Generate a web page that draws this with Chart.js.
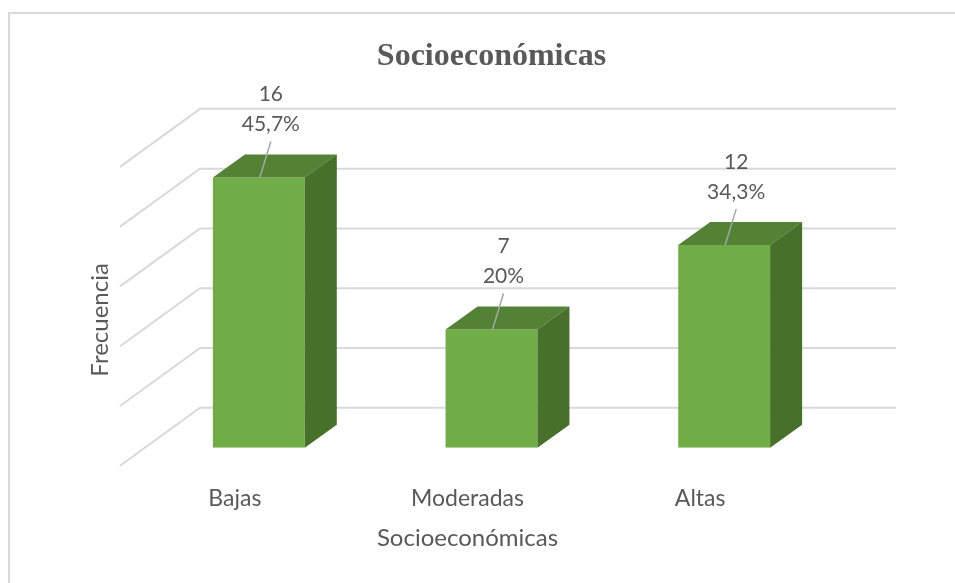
<!DOCTYPE html>
<html>
<head>
<meta charset="utf-8">
<script src="https://cdn.jsdelivr.net/npm/chart.js@4"></script>
<style>
  html, body { margin: 0; padding: 0; background: #fff; }
  canvas { display: block; }
</style>
</head>
<body>
<canvas id="grafico" width="955" height="583"></canvas>
<script>
// datos
const categorias = ['Bajas', 'Moderadas', 'Altas'];
const frecuencias = [16, 7, 12];
const porcentajes = ['45,7%', '20%', '34,3%'];
const yMax = 20;
const yPaso = 4;

const TEXTO = '#595959';
const REJILLA = '#d9d9d9';
const FRENTE = '#70ad47';
const TAPA = '#548235';
const LADO = '#47702b';

// profundidad de las barras y del fondo (efecto 3D de Excel)
const PROF_X = 32, PROF_Y = 23;
const FONDO_Y = 40, FONDO_ESCALA = 0.885;

const efecto3d = {
  id: 'efecto3d',
  beforeDraw(chart) {
    const ctx = chart.ctx;
    ctx.save();
    ctx.fillStyle = '#fff';
    ctx.fillRect(0, 0, chart.width, chart.height);
    // marco del grafico
    ctx.strokeStyle = REJILLA;
    ctx.lineWidth = 2;
    ctx.beginPath();
    ctx.moveTo(9, chart.height);
    ctx.lineTo(9, 13);
    ctx.lineTo(chart.width, 13);
    ctx.stroke();
    ctx.restore();
  },
  beforeDatasetsDraw(chart) {
    const { ctx, chartArea: a, scales: { y } } = chart;
    ctx.save();
    ctx.strokeStyle = REJILLA;
    ctx.lineWidth = 2;
    for (let v = 0; v <= yMax; v += yPaso) {
      const yf = y.getPixelForValue(v);
      const yb = a.bottom - FONDO_Y - (a.bottom - yf) * FONDO_ESCALA;
      ctx.beginPath();
      ctx.moveTo(a.left - 22.5, yb + 58);
      ctx.lineTo(a.left + 57.5, yb);
      ctx.lineTo(a.right + 55.5, yb);
      ctx.stroke();
    }
    ctx.restore();
  },
  afterDatasetsDraw(chart) {
    const { ctx, chartArea: a } = chart;
    ctx.save();
    chart.getDatasetMeta(0).data.forEach((bar, i) => {
      const { x, y, base, width } = bar.getProps(['x', 'y', 'base', 'width'], true);
      const l = x - width / 2, r = x + width / 2;
      // tapa
      ctx.fillStyle = TAPA;
      ctx.beginPath();
      ctx.moveTo(l, y);
      ctx.lineTo(r, y);
      ctx.lineTo(r + PROF_X, y - PROF_Y);
      ctx.lineTo(l + PROF_X, y - PROF_Y);
      ctx.closePath();
      ctx.fill();
      // lado
      ctx.fillStyle = LADO;
      ctx.beginPath();
      ctx.moveTo(r, y);
      ctx.lineTo(r + PROF_X, y - PROF_Y);
      ctx.lineTo(r + PROF_X, base - PROF_Y);
      ctx.lineTo(r, base);
      ctx.closePath();
      ctx.fill();
      // linea guia y etiquetas
      ctx.strokeStyle = '#a6a6a6';
      ctx.lineWidth = 1.5;
      ctx.beginPath();
      ctx.moveTo(x + 12, y - 36);
      ctx.lineTo(x + 1, y);
      ctx.stroke();
      ctx.fillStyle = TEXTO;
      ctx.font = '21px Lato';
      ctx.textAlign = 'center';
      ctx.textBaseline = 'middle';
      ctx.fillText(String(frecuencias[i]), x + 12, y - 83);
      ctx.fillText(porcentajes[i], x + 12, y - 53);
    });

    // titulos de ejes
    ctx.fillStyle = TEXTO;
    ctx.font = '24px Lato';
    ctx.textAlign = 'center';
    ctx.textBaseline = 'middle';
    ctx.fillText('Socioeconómicas', (a.left + a.right) / 2 - 24, a.bottom + 90);
    ctx.translate(a.left - 42.5, (a.top + a.bottom) / 2 + 41);
    ctx.rotate(-Math.PI / 2);
    ctx.fillText('Frecuencia', 0, 0);
    ctx.restore();
  }
};

new Chart(document.getElementById('grafico'), {
  type: 'bar',
  data: {
    labels: categorias,
    datasets: [{
      data: frecuencias,
      backgroundColor: FRENTE,
      barPercentage: 0.395,
      categoryPercentage: 1
    }]
  },
  options: {
    responsive: false,
    animation: false,
    layout: { padding: { left: 142.5, right: 114.5, top: 0, bottom: 33.6 } },
    plugins: {
      legend: { display: false },
      tooltip: { enabled: false },
      title: {
        display: true,
        text: 'Socioeconómicas',
        color: TEXTO,
        font: { family: 'Liberation Serif', size: 32, weight: 'bold', lineHeight: 1.2 },
        padding: { top: 38, bottom: 33.6 }
      }
    },
    scales: {
      x: {
        grid: { display: false, drawTicks: false },
        border: { display: false },
        ticks: { padding: 37, labelOffset: -24, color: TEXTO, font: { family: 'Lato', size: 23 } }
      },
      y: { display: false, min: 0, max: yMax, ticks: { stepSize: yPaso } }
    }
  },
  plugins: [efecto3d]
});
</script>
</body>
</html>
